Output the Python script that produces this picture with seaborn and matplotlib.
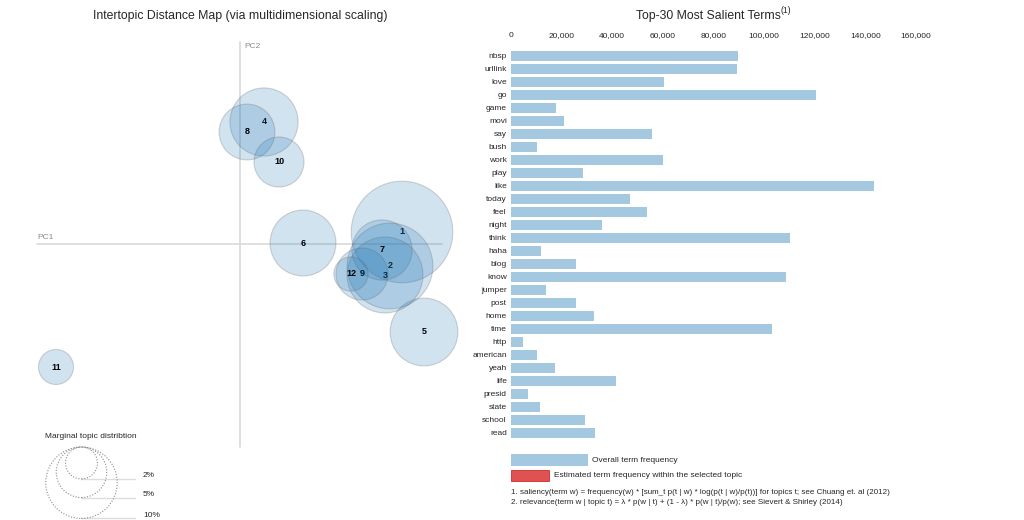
import numpy as np
import pandas as pd
import matplotlib
matplotlib.use("Agg")
import matplotlib.pyplot as plt
from matplotlib.patches import Circle, Rectangle
import seaborn as sns

# ---------------- data ----------------
terms = ["nbsp", "urllink", "love", "go", "game", "movi", "say", "bush", "work", "play",
         "like", "today", "feel", "night", "think", "haha", "blog", "know", "jumper", "post",
         "home", "time", "http", "american", "yeah", "life", "presid", "state", "school", "read"]
overall_freq = [89800, 89300, 60300, 120400, 17800, 20800, 55600, 10400, 60200, 28600,
                143500, 47000, 53600, 36100, 110200, 11900, 25700, 108600, 13800, 25700,
                32900, 103000, 4700, 10400, 17200, 41600, 6600, 11600, 29200, 33200]
freq_ticks = [0, 20000, 40000, 60000, 80000, 100000, 120000, 140000, 160000]

topic_ids = [1, 2, 3, 4, 5, 6, 7, 8, 9, 10, 11, 12]
topic_pc1 = [0.162, 0.150, 0.145, 0.024, 0.184, 0.063, 0.142, 0.007, 0.122, 0.039, -0.184, 0.111]
topic_pc2 = [0.012, -0.022, -0.031, 0.122, -0.088, 0.001, -0.006, 0.112, -0.030, 0.082, -0.123, -0.030]
topic_share = [20.2, 14.4, 11.3, 9.1, 9.0, 8.5, 7.1, 6.1, 5.3, 4.9, 2.4, 2.3]  # percent of tokens
legend_share = [2, 5, 10]

# ---------------- style ----------------
sns.set_style("white")
plt.rcParams["font.family"] = ["Liberation Sans", "DejaVu Sans"]

W, H = 1024, 520
fig = plt.figure(figsize=(W / 100, H / 100), dpi=100)


def fx(x):
    return x / W


def fy(y):
    return 1 - y / H


BLUE = "#1f77b4"
RED = "#d62728"
K = 0.113  # radius scale: PC units per sqrt(share)
FS = 6.0

# ---------------- left: intertopic distance map ----------------
ax1 = fig.add_axes([0, 0, 470 / W, 1])
ax1.set_xlim(-0.240, 0.230)
ax1.set_ylim(-0.276, 0.244)
ax1.axis("off")

ax1.plot([-0.203, 0.202], [0, 0], color="#d9d9d9", lw=1.2, zorder=1)
ax1.plot([0, 0], [0.202, -0.203], color="#d9d9d9", lw=1.2, zorder=1)
ax1.text(-0.203, 0.003, "PC1", ha="left", va="bottom", color="#8a8a8a", fontsize=FS)
ax1.text(0.004, 0.198, "PC2", ha="left", va="center", color="#8a8a8a", fontsize=FS)

topics = pd.DataFrame({"topic": topic_ids, "PC1": topic_pc1, "PC2": topic_pc2, "share": topic_share})
for i, row in topics.iterrows():
    r = K * np.sqrt(row["share"] / 100)
    ax1.add_patch(Circle((row["PC1"], row["PC2"]), r,
                         facecolor=(31 / 255, 119 / 255, 180 / 255, 0.2),
                         edgecolor=(0.4, 0.4, 0.4, 0.28), lw=0.8, zorder=2 + 2 * i))
    ax1.text(row["PC1"], row["PC2"], str(int(row["topic"])), ha="center", va="center",
             fontsize=6.5, fontweight="bold", color="black", zorder=3 + 2 * i)

# size legend
cx, top = -0.1585, -0.203
ax1.text(-0.195, -0.193, "Marginal topic distribtion", ha="left", va="center", fontsize=FS)
for s in legend_share:
    r = K * np.sqrt(s / 100)
    cy = top - r
    ax1.add_patch(Circle((cx, cy), r, fill=False, ls=(0, (1, 1.5)), edgecolor="#8c8c8c", lw=0.8, zorder=5))
    ax1.plot([cx, -0.105], [cy - r, cy - r], color="#dddddd", lw=1.0, zorder=4)
    ax1.text(-0.097, cy - r + 0.003, f"{s}%", ha="left", va="center", fontsize=FS)

fig.text(fx(240), fy(16), "Intertopic Distance Map (via multidimensional scaling)",
         ha="center", va="center", fontsize=8.8)

# ---------------- right: salient terms bar chart ----------------
ax2 = fig.add_axes([fx(511), fy(439.2), 405 / W, 390 / H])
bars = pd.DataFrame({"term": terms, "freq": overall_freq})
sns.barplot(data=bars, x="freq", y="term", orient="h", color=BLUE, alpha=0.4,
            saturation=1, width=0.78, linewidth=0, ax=ax2)
ax2.set_xlim(0, 160000)
ax2.xaxis.tick_top()
ax2.set_xticks(freq_ticks)
ax2.set_xticklabels([f"{v:,}" for v in freq_ticks])
ax2.tick_params(axis="x", length=0, labelsize=FS, pad=7)
ax2.tick_params(axis="y", length=0, labelsize=FS, pad=3)
ax2.set_xlabel("")
ax2.set_ylabel("")
for sp in ax2.spines.values():
    sp.set_visible(False)

t = fig.text(fx(708), fy(16), "Top-30 Most Salient Terms", ha="center", va="center", fontsize=8.8)
ax2.annotate("(1)", xy=(1.0, 0.55), xycoords=t, ha="left", va="bottom", fontsize=6.2)

# legend boxes
fig.patches.append(Rectangle((fx(511), fy(466)), 77 / W, 12 / H, transform=fig.transFigure,
                             facecolor=BLUE, alpha=0.4, edgecolor="none"))
fig.text(fx(592), fy(460), "Overall term frequency", ha="left", va="center", fontsize=FS)
fig.patches.append(Rectangle((fx(511), fy(481)), 38 / W, 11 / H, transform=fig.transFigure,
                             facecolor=(214 / 255, 39 / 255, 40 / 255, 0.8), edgecolor=RED, lw=0.6))
fig.text(fx(554), fy(475.5), "Estimated term frequency within the selected topic",
         ha="left", va="center", fontsize=FS)

fig.text(fx(511), fy(492.5),
         "1. saliency(term w) = frequency(w) * [sum_t p(t | w) * log(p(t | w)/p(t))] for topics t; see Chuang et. al (2012)",
         ha="left", va="center", fontsize=5.8)
fig.text(fx(511), fy(503),
         "2. relevance(term w | topic t) = \u03bb * p(w | t) + (1 - \u03bb) * p(w | t)/p(w); see Sievert & Shirley (2014)",
         ha="left", va="center", fontsize=5.8)

fig.savefig("out.png", dpi=100)
